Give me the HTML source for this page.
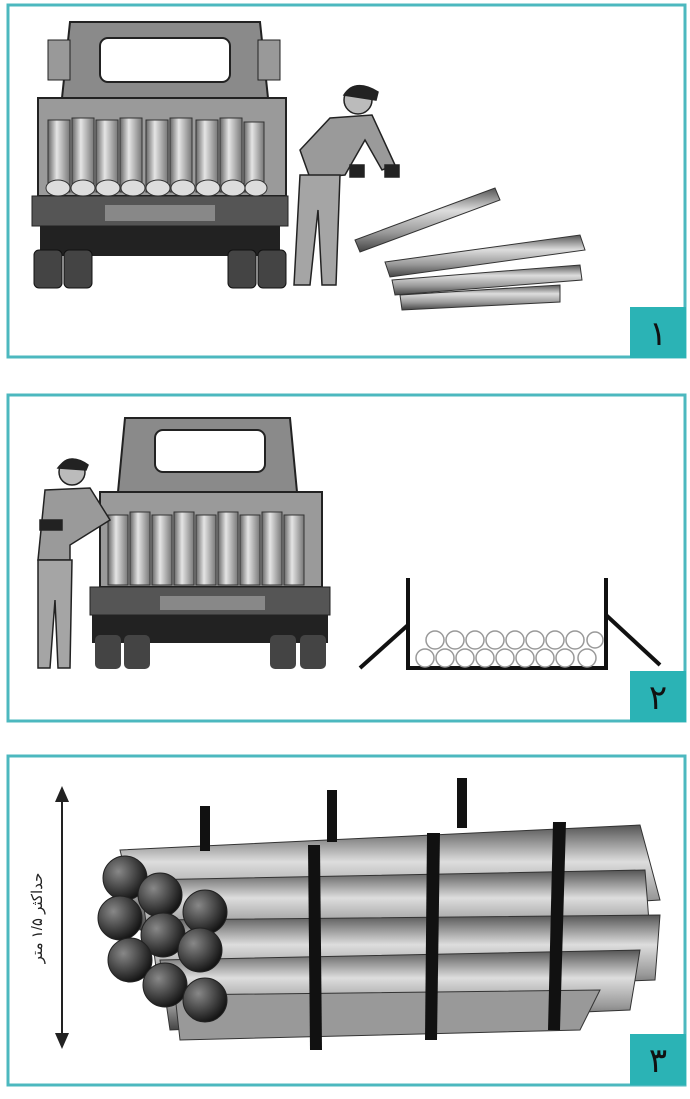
<!DOCTYPE html>
<html><head><meta charset="utf-8"><style>
html,body{margin:0;padding:0;background:#fff;}
svg{display:block}
</style></head><body>
<svg width="690" height="1099" viewBox="0 0 690 1099" xmlns="http://www.w3.org/2000/svg" font-family="Liberation Sans, Noto Sans CJK SC, sans-serif">
<defs>
<linearGradient id="pipe" x1="0" y1="0" x2="0" y2="1"><stop offset="0" stop-color="#555"/><stop offset="0.35" stop-color="#ddd"/><stop offset="0.7" stop-color="#999"/><stop offset="1" stop-color="#444"/></linearGradient>
<linearGradient id="vpipe" x1="0" y1="0" x2="1" y2="0"><stop offset="0" stop-color="#666"/><stop offset="0.4" stop-color="#e5e5e5"/><stop offset="1" stop-color="#777"/></linearGradient>
<radialGradient id="end" cx="0.35" cy="0.35" r="0.7"><stop offset="0" stop-color="#888"/><stop offset="1" stop-color="#111"/></radialGradient>
</defs>
<rect x="8" y="5" width="677" height="352" fill="none" stroke="#4cb8bf" stroke-width="3"/>
<rect x="8" y="395" width="677" height="326" fill="none" stroke="#4cb8bf" stroke-width="3"/>
<rect x="8" y="756" width="677" height="329" fill="none" stroke="#4cb8bf" stroke-width="3"/>
<rect x="630" y="307" width="56" height="51" fill="#2bb3b5"/>
<rect x="630" y="671" width="56" height="51" fill="#2bb3b5"/>
<rect x="630" y="1034" width="56" height="51" fill="#2bb3b5"/>
<text x="658" y="345" font-size="34" text-anchor="middle" fill="#111">١</text>
<text x="658" y="709" font-size="34" text-anchor="middle" fill="#111">٢</text>
<text x="658" y="1072" font-size="34" text-anchor="middle" fill="#111">٣</text>

<g>
<path d="M70 22 H260 L268 98 H62 Z" fill="#8a8a8a" stroke="#222" stroke-width="2"/>
<rect x="100" y="38" width="130" height="44" rx="8" fill="#fff" stroke="#222" stroke-width="2"/>
<rect x="48" y="40" width="22" height="40" fill="#999" stroke="#222"/>
<rect x="258" y="40" width="22" height="40" fill="#999" stroke="#222"/>
<rect x="38" y="98" width="248" height="98" fill="#9a9a9a" stroke="#222" stroke-width="2"/>
<g fill="url(#vpipe)" stroke="#333">
<rect x="48" y="120" width="22" height="72"/><rect x="72" y="118" width="22" height="74"/><rect x="96" y="120" width="22" height="72"/><rect x="120" y="118" width="22" height="74"/><rect x="146" y="120" width="22" height="72"/><rect x="170" y="118" width="22" height="74"/><rect x="196" y="120" width="22" height="72"/><rect x="220" y="118" width="22" height="74"/><rect x="244" y="122" width="20" height="70"/>
</g>
<g fill="#ddd" stroke="#333"><ellipse cx="58" cy="188" rx="12" ry="8"/><ellipse cx="83" cy="188" rx="12" ry="8"/><ellipse cx="108" cy="188" rx="12" ry="8"/><ellipse cx="133" cy="188" rx="12" ry="8"/><ellipse cx="158" cy="188" rx="12" ry="8"/><ellipse cx="183" cy="188" rx="12" ry="8"/><ellipse cx="208" cy="188" rx="12" ry="8"/><ellipse cx="233" cy="188" rx="12" ry="8"/><ellipse cx="256" cy="188" rx="11" ry="8"/></g>
<rect x="32" y="196" width="256" height="30" fill="#555" stroke="#222"/>
<rect x="105" y="205" width="110" height="16" fill="#888"/>
<rect x="40" y="226" width="240" height="30" fill="#222"/>
<rect x="34" y="250" width="28" height="38" rx="5" fill="#444" stroke="#111"/><rect x="64" y="250" width="28" height="38" rx="5" fill="#444" stroke="#111"/>
<rect x="228" y="250" width="28" height="38" rx="5" fill="#444" stroke="#111"/><rect x="258" y="250" width="28" height="38" rx="5" fill="#444" stroke="#111"/>
</g>
<g stroke="#222" stroke-width="1.5">
<circle cx="358" cy="100" r="14" fill="#bbb"/><path d="M344 95 Q355 78 378 92 L376 100 Z" fill="#222"/>
<path d="M330 118 L372 115 L395 165 L382 170 L365 140 L345 175 L310 178 L300 150 Z" fill="#9a9a9a"/>
<path d="M300 175 L340 175 L336 285 L322 285 L318 210 L310 285 L294 285 Z" fill="#a5a5a5"/>
<rect x="385" y="165" width="14" height="12" fill="#222"/><rect x="350" y="165" width="14" height="12" fill="#222"/>
</g>
<g stroke="#333"><path d="M355 240 L495 188 L500 200 L360 252 Z" fill="url(#pipe)"/>
<path d="M385 262 L580 235 L585 250 L390 277 Z" fill="url(#pipe)"/>
<path d="M392 280 L580 265 L582 280 L395 295 Z" fill="url(#pipe)"/>
<path d="M400 295 L560 285 L560 302 L402 310 Z" fill="url(#pipe)"/></g>

<g>
<path d="M125 418 H290 L297 492 H118 Z" fill="#8a8a8a" stroke="#222" stroke-width="2"/>
<rect x="155" y="430" width="110" height="42" rx="8" fill="#fff" stroke="#222" stroke-width="2"/>
<rect x="100" y="492" width="222" height="95" fill="#9a9a9a" stroke="#222" stroke-width="2"/>
<g fill="url(#vpipe)" stroke="#333">
<rect x="108" y="515" width="20" height="70"/><rect x="130" y="512" width="20" height="73"/><rect x="152" y="515" width="20" height="70"/><rect x="174" y="512" width="20" height="73"/><rect x="196" y="515" width="20" height="70"/><rect x="218" y="512" width="20" height="73"/><rect x="240" y="515" width="20" height="70"/><rect x="262" y="512" width="20" height="73"/><rect x="284" y="515" width="20" height="70"/>
</g>
<rect x="90" y="587" width="240" height="28" fill="#555" stroke="#222"/>
<rect x="160" y="596" width="105" height="14" fill="#888"/>
<rect x="92" y="615" width="236" height="28" fill="#222"/>
<rect x="95" y="635" width="26" height="34" rx="5" fill="#444"/><rect x="124" y="635" width="26" height="34" rx="5" fill="#444"/>
<rect x="270" y="635" width="26" height="34" rx="5" fill="#444"/><rect x="300" y="635" width="26" height="34" rx="5" fill="#444"/>
</g>
<g stroke="#222" stroke-width="1.5">
<circle cx="72" cy="472" r="13" fill="#bbb"/><path d="M58 468 Q70 452 88 465 L86 470 Z" fill="#222"/>
<path d="M45 490 L90 488 L110 520 L70 545 L70 560 L38 560 Z" fill="#9a9a9a"/>
<path d="M38 560 L72 560 L70 668 L58 668 L55 600 L50 668 L38 668 Z" fill="#a5a5a5"/>
<rect x="40" y="520" width="22" height="10" fill="#222"/>
</g>
<g stroke="#111" stroke-width="4" fill="none">
<path d="M408 578 V668 H606 V578"/>
<path d="M408 625 L360 668"/><path d="M606 615 L660 665"/>
</g>
<g fill="#fff" stroke="#999" stroke-width="1.5">
<circle cx="425" cy="658" r="9"/><circle cx="445" cy="658" r="9"/><circle cx="465" cy="658" r="9"/><circle cx="485" cy="658" r="9"/><circle cx="505" cy="658" r="9"/><circle cx="525" cy="658" r="9"/><circle cx="545" cy="658" r="9"/><circle cx="565" cy="658" r="9"/><circle cx="587" cy="658" r="9"/>
<circle cx="435" cy="640" r="9"/><circle cx="455" cy="640" r="9"/><circle cx="475" cy="640" r="9"/><circle cx="495" cy="640" r="9"/><circle cx="515" cy="640" r="9"/><circle cx="535" cy="640" r="9"/><circle cx="555" cy="640" r="9"/><circle cx="575" cy="640" r="9"/><circle cx="595" cy="640" r="8"/>
</g>

<g stroke="#222" stroke-width="2"><line x1="62" y1="790" x2="62" y2="1045"/></g>
<path d="M55 802 L62 786 L69 802 Z" fill="#222"/><path d="M55 1033 L62 1049 L69 1033 Z" fill="#222"/>
<text transform="translate(42 918) rotate(-90)" font-size="15" text-anchor="middle" fill="#222">حداکثر ۱/۵ متر</text>
<g stroke="#333" stroke-width="1">
<path d="M120 850 L640 825 L660 900 L140 930 Z" fill="url(#pipe)"/>
<path d="M140 880 L645 870 L650 935 L150 950 Z" fill="url(#pipe)"/>
<path d="M150 920 L660 915 L655 980 L160 1000 Z" fill="url(#pipe)"/>
<path d="M160 960 L640 950 L630 1010 L170 1030 Z" fill="url(#pipe)"/>
<path d="M175 995 L600 990 L580 1030 L180 1040 Z" fill="#999"/>
</g>
<g fill="url(#end)" stroke="#222">
<circle cx="125" cy="878" r="22"/><circle cx="160" cy="895" r="22"/><circle cx="205" cy="912" r="22"/>
<circle cx="120" cy="918" r="22"/><circle cx="163" cy="935" r="22"/><circle cx="200" cy="950" r="22"/>
<circle cx="130" cy="960" r="22"/><circle cx="165" cy="985" r="22"/><circle cx="205" cy="1000" r="22"/>
</g>
<g fill="#111">
<rect x="200" y="806" width="10" height="45"/><rect x="327" y="790" width="10" height="52"/><rect x="457" y="778" width="10" height="50"/>
<path d="M308 845 L320 845 L322 1050 L310 1050 Z"/><path d="M427 833 L440 833 L437 1040 L425 1040 Z"/><path d="M553 822 L566 822 L560 1030 L548 1030 Z"/>
</g>
</svg>
</body></html>
